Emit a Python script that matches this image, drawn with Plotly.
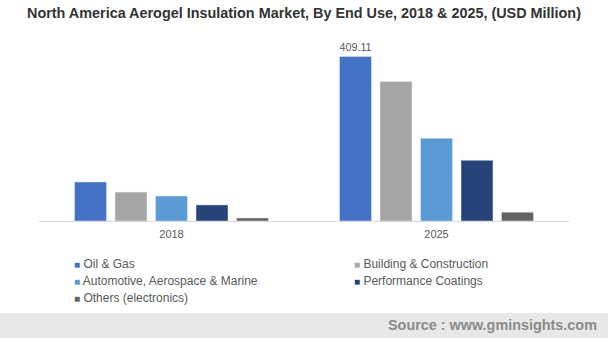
import plotly.graph_objects as go

years = ["2018", "2025"]
segments = ["Oil & Gas", "Building & Construction", "Automotive, Aerospace & Marine",
            "Performance Coatings", "Others (electronics)"]
oil_gas = [97, 409.11]
building = [72, 347]
automotive = [62, 206]
performance = [40, 151]
others = [7.5, 22]
series = [oil_gas, building, automotive, performance, others]
colors = ["#4472C4", "#A5A5A5", "#5B9BD5", "#264478", "#636363"]

W, H = 608, 338
L, R, T, B = 39, 39, 44, 117
ph = H - T - B
pw = W - L - R


def py(px):
    return (H - B - px) / ph


def pxx(px):
    return (px - L) / pw


fig = go.Figure()
for i, (name, vals, col) in enumerate(zip(segments, series, colors)):
    text = ["", "409.11"] if i == 0 else None
    fig.add_trace(go.Bar(
        x=years, y=vals, name=name, marker_color=col, showlegend=False,
        text=text, textposition="outside", cliponaxis=False,
        textfont=dict(size=11, color="#595959", family="Liberation Sans"),
    ))

# legend: 2 columns x 3 rows, one legend box per entry
legend_pos = [(34, 263), (314, 263), (34, 280), (314, 280), (34, 297)]
legend_layout = {}
for k, (name, col, (lx, ly)) in enumerate(zip(segments, colors, legend_pos)):
    lname = "legend" if k == 0 else f"legend{k + 1}"
    fig.add_trace(go.Scatter(
        x=[None], y=[None], mode="markers",
        name=f'<span style="color:{col};font-size:10px">■</span> {name}',
        marker=dict(size=1, color="rgba(0,0,0,0)"),
        legend=lname, showlegend=True,
    ))
    legend_layout[lname] = dict(
        x=pxx(lx), xanchor="left", y=py(ly), yanchor="middle",
        font=dict(size=12, color="#595959", family="Liberation Sans"),
        bgcolor="rgba(0,0,0,0)", borderwidth=0,
    )

fig.add_shape(type="rect", xref="paper", yref="paper",
              x0=pxx(0), x1=pxx(W), y0=py(313), y1=py(H),
              fillcolor="#E8E8E8", line_width=0, layer="below")
fig.add_annotation(text="<b>Source : www.gminsights.com</b>", xref="paper", yref="paper",
                   x=pxx(599), y=py(325), xanchor="right", yanchor="middle",
                   showarrow=False, font=dict(size=14.4, color="#8A8A8A", family="Liberation Sans"))

fig.update_layout(
    width=W, height=H,
    margin=dict(l=L, r=R, t=T, b=B, autoexpand=False),
    paper_bgcolor="white", plot_bgcolor="white",
    title=dict(text="<b>North America Aerogel Insulation Market, By End Use, 2018 & 2025, (USD Million)</b>",
               x=0.5, xanchor="center", y=1 - 13 / H, yanchor="middle",
               font=dict(size=14.4, color="#333333", family="Liberation Sans")),
    barmode="group", bargap=0.236, bargroupgap=0.21,
    font=dict(family="Liberation Sans", size=11, color="#595959"),
    xaxis=dict(showline=True, linecolor="#D9D9D9", linewidth=1, ticks="",
               tickfont=dict(size=11, color="#595959"), showgrid=False,
               ticklabelstandoff=3, fixedrange=True),
    yaxis=dict(range=[0, 440], visible=False, showgrid=False, fixedrange=True),
    **legend_layout,
)

fig.write_html("out.html")
